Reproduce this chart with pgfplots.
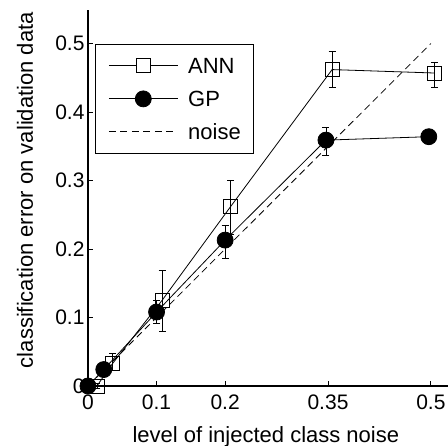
\documentclass[border=0pt]{standalone}
\usepackage{fontspec}
\setmainfont{Liberation Sans}
\usepackage{pgfplots}
\pgfplotsset{compat=1.18}

% legend line with a gap where the (open) marker sits
\pgfplotsset{
    gaplegend/.style={
        legend image code/.code={%
            \draw[##1, mark=none] (0pt,0pt) -- (27.5pt,0pt) (41.5pt,0pt) -- (69pt,0pt);
            \draw[##1, only marks] plot coordinates {(34.5pt,0pt)};}
    }
}

\begin{document}
\begin{tikzpicture}
\useasboundingbox (-88pt,-60pt) rectangle (360pt,386pt);
\begin{axis}[
    scale only axis,
    width=360pt, height=376pt,
    xmin=0, xmax=0.525,
    ymin=0, ymax=0.549,
    axis lines*=left,
    axis line style={line width=1.3pt},
    tick align=inside,
    major tick length=5pt,
    tick style={line width=0.8pt, black},
    xtick={0,0.1,0.2,0.35,0.5},
    xticklabels={0,0.1,0.2,0.35,0.5},
    ytick={0,0.1,0.2,0.3,0.4,0.5},
    yticklabels={0,0.1,0.2,0.3,0.4,0.5},
    tick label style={font=\fontsize{21}{23}\selectfont},
    xticklabel style={yshift=-5pt},
    label style={font=\fontsize{22}{24}\selectfont},
    xlabel={level of injected class noise},
    ylabel={classification error on validation data},
    xlabel style={at={(axis description cs:0.494,-0.136)}, anchor=center},
    ylabel style={at={(axis description cs:-0.175,0.521)}, anchor=center},
    clip=false,
    legend image code/.code={%
        \draw[mark repeat=2,mark phase=2,#1] plot coordinates {(0pt,0pt) (34.5pt,0pt) (69pt,0pt)};},
    legend cell align=left,
    legend style={
        at={(axis description cs:0.0194,0.9096)}, anchor=north west,
        draw=black, line width=0.8pt,
        font=\fontsize{22}{24}\selectfont,
        inner xsep=13pt, inner ysep=5pt,
        row sep=0pt,
        /tikz/every odd column/.append style={column sep=10pt},
        nodes={inner sep=0pt, text height=24.4pt, text depth=8.6pt, anchor=west},
    },
    error bars/error bar style={line width=0.8pt},
    error bars/error mark options={rotate=90, mark size=3.5pt, line width=0.8pt},
]

% ANN
\addplot[black, line width=0.8pt, mark=square, mark size=7pt,
    mark options={solid, line width=0.8pt, fill=none},
    gaplegend,
    error bars/.cd, y dir=both, y explicit]
    coordinates {
    (0.013,0.000) += (0,0.004) -= (0,0.004)
    (0.036,0.033) += (0,0.015) -= (0,0.010)
    (0.108,0.125) += (0,0.044) -= (0,0.046)
    (0.208,0.262) += (0,0.038) -= (0,0.040)
    (0.356,0.462) += (0,0.026) -= (0,0.026)
    (0.505,0.457) += (0,0.015) -= (0,0.021)
    };

% GP
\addplot[black, line width=0.8pt, mark=*, mark size=8pt,
    mark options={solid, fill=black},
    error bars/.cd, y dir=both, y explicit]
    coordinates {
    (0.000,0.000) += (0,0.002) -= (0,0.002)
    (0.023,0.024) += (0,0.008) -= (0,0.008)
    (0.100,0.108) += (0,0.017) -= (0,0.017)
    (0.200,0.213) += (0,0.022) -= (0,0.026)
    (0.347,0.359) += (0,0.018) -= (0,0.023)
    (0.497,0.364) += (0,0.005) -= (0,0.005)
    };

% noise
\addplot[black, line width=0.8pt, dash pattern=on 7pt off 4.5pt]
    coordinates {(0,0) (0.5,0.5)};

\legend{ANN, GP, noise}
\end{axis}
\end{tikzpicture}
\end{document}
